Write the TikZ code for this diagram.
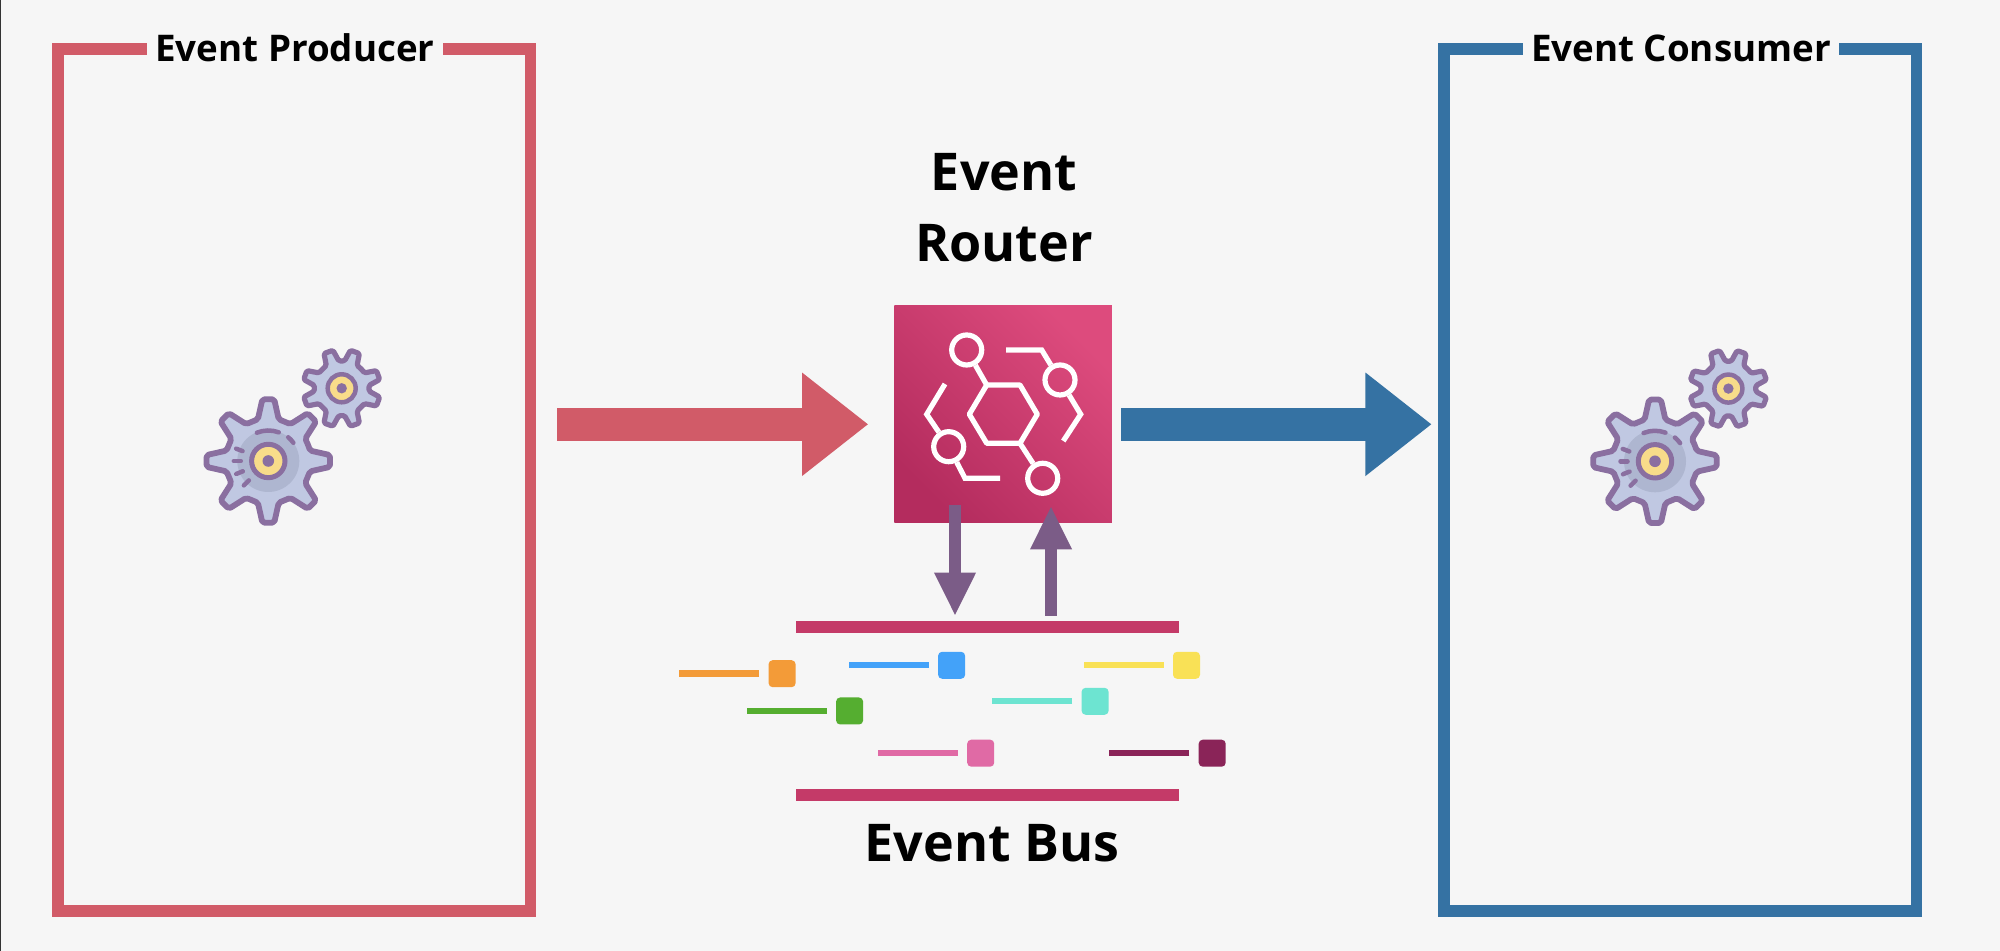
\documentclass[tikz,border=0pt]{standalone}
\usepackage{fontspec}
\setmainfont{Open Sans}
\usetikzlibrary{arrows.meta,positioning,calc}
\definecolor{pagebg}{HTML}{F6F6F6}
\definecolor{producerred}{HTML}{D15B68}
\definecolor{consumerblue}{HTML}{3572A3}
\definecolor{buspink}{HTML}{C43A68}
\definecolor{routerlow}{HTML}{B42C5E}
\definecolor{routerhigh}{HTML}{DD4B7D}
\definecolor{pinarrow}{HTML}{7B5C87}
\definecolor{gearline}{HTML}{8A6FA0}
\definecolor{gearfill}{HTML}{C0C8E2}
\definecolor{geardisc}{HTML}{AEB6D0}
\definecolor{gearyellow}{HTML}{F8DC8A}
\definecolor{msgorange}{HTML}{F39B38}
\definecolor{msgblue}{HTML}{43A2F9}
\definecolor{msgyellow}{HTML}{F9E156}
\definecolor{msgteal}{HTML}{6DE4D1}
\definecolor{msggreen}{HTML}{55AE30}
\definecolor{msgpink}{HTML}{E06AA5}
\definecolor{msgdark}{HTML}{8A2458}
\tikzset{
  sidebox/.style={draw,line width=0.117cm,inner sep=0pt,minimum width=4.725cm,minimum height=8.614cm},
  boxtitle/.style={fill=pagebg,anchor=base,inner xsep=0.08cm,inner ysep=0.05cm,font=\fontsize{10.45}{12}\selectfont\bfseries},
  bigtitle/.style={align=center,font=\fontsize{14.8}{20.2}\selectfont\bfseries},
  bigarrow/.style={line width=0.333cm,-{Triangle[length=0.663cm,width=0.99cm]}},
  pinstyle/.style={pinarrow,line width=0.115cm,-{Triangle[length=0.433cm,width=0.385cm]}},
  busbar/.style={fill=buspink,inner sep=0pt,minimum width=3.825cm,minimum height=0.117cm},
  msgbox/.style={rounded corners=0.04cm,inner sep=0pt,minimum size=0.27cm},
  iconline/.style={white,line width=0.052cm},
  iconring/.style={circle,draw=white,line width=0.052cm,inner sep=0pt,minimum size=0.3cm},
  gearpair/.pic={
    % - big gear.
    \draw [gearline,fill=gearfill,line width=0.058cm,line join=round,rounded corners=0.02cm] (22.5:0.43)
      \foreach \a in {45,90,...,360} { -- (\a-14:0.43) -- (\a-5.5:0.62) -- (\a+5.5:0.62) -- (\a+14:0.43) } -- cycle;
    \fill [geardisc] (0,0) circle (0.31);
    \draw [gearline,line width=0.045cm,line cap=round] (112:0.305) arc (112:70:0.305);
    \draw [gearline,line width=0.045cm,line cap=round] (50:0.31) arc (50:36:0.31);
    \foreach \a in {159,180,202,225} {
      \draw [gearline,line width=0.045cm,line cap=round] (\a:0.275) -- (\a:0.345);
    }
    \draw [gearline,fill=gearyellow,line width=0.05cm] (0,0) circle (0.167);
    \fill [gearline] (0,0) circle (0.058);
    % - small gear.
    \begin{scope}[shift={(0.734,0.727)}]
      \draw [gearline,fill=gearfill,line width=0.052cm,line join=round,rounded corners=0.015cm] (45:0.275)
        \foreach \a in {70,110,160,200,250,290,340,380} { -- (\a-14:0.275) -- (\a-7:0.39) -- (\a+7:0.39) -- (\a+14:0.275) } -- cycle;
      \draw [gearline,fill=gearyellow,line width=0.045cm] (0,0) circle (0.14);
      \fill [gearline] (0,0) circle (0.052);
    \end{scope}
  }
}
\begin{document}
\begin{tikzpicture}
% =============================================
% - page.
\fill [pagebg] (0,0) rectangle (20,-9.51);
\fill [black!80] (0,0) rectangle (0.015,-9.51);
\useasboundingbox (0,0) rectangle (20,-9.51);
% =============================================
% - producer and consumer.
\node [sidebox,draw=producerred] (producer) at (2.9425,-4.8) {};
\node [sidebox,draw=consumerblue] (consumer) at (16.802,-4.8) {};
\node [boxtitle] (producertitle) at (2.95,-0.617) {Event Producer};
\node [boxtitle] (consumertitle) at (16.81,-0.617) {Event Consumer};
\pic at (2.683,-4.61) {gearpair};
\pic at (16.55,-4.613) {gearpair};
% =============================================
% - router.
\node [bigtitle] (routertitle) at (10.04,-2.075) {Event\\Router};
\node [minimum size=2.175cm,inner sep=0pt,bottom color=routerlow,top color=routerhigh,shading angle=-45] (router) at (10.03,-4.1415) {};
% hexagon
\coordinate (hexa) at (9.693,-4.143);
\coordinate (hexb) at (9.867,-3.85);
\coordinate (hexc) at (10.2,-3.85);
\coordinate (hexd) at (10.373,-4.143);
\coordinate (hexe) at (10.2,-4.433);
\coordinate (hexf) at (9.867,-4.433);
\draw [iconline,line join=round] (hexa) -- (hexb) -- (hexc) -- (hexd) -- (hexe) -- (hexf) -- cycle;
% rings
\node [iconring] (ringa) at (9.667,-3.5) {};
\node [iconring] (ringb) at (10.427,-4.783) {};
\node [iconring] (ringc) at (10.6,-3.8) {};
\node [iconring] (ringd) at (9.487,-4.467) {};
\draw [iconline] (ringa) -- (hexb);
\draw [iconline] (ringb) -- (hexe);
\coordinate (linca) at (10.06,-3.5);
\coordinate (lincb) at (10.417,-3.5);
\coordinate (lincc) at (10.807,-4.143);
\coordinate (lincd) at (10.633,-4.41);
\draw [iconline] (linca) -- (lincb) -- (ringc);
\draw [iconline] (ringc) -- (lincc) -- (lincd);
\coordinate (linda) at (9.45,-3.84);
\coordinate (lindb) at (9.267,-4.143);
\coordinate (lindc) at (9.65,-4.783);
\coordinate (lindd) at (10.0,-4.783);
\draw [iconline] (linda) -- (lindb) -- (ringd);
\draw [iconline] (ringd) -- (lindc) -- (lindd);
% =============================================
% - big arrows.
\coordinate (redtail) at (5.573,-4.243);
\coordinate (redtip) at (8.683,-4.243);
\coordinate (bluetail) at (11.21,-4.243);
\coordinate (bluetip) at (14.317,-4.243);
\draw [bigarrow,producerred] (redtail) -- (redtip);
\draw [bigarrow,consumerblue] (bluetail) -- (bluetip);
% =============================================
% - bus.
\node [busbar] (bustop) at (9.8725,-6.268) {};
\node [busbar] (busbottom) at (9.8725,-7.948) {};
\node [bigtitle,anchor=base] (bustitle) at (9.92,-8.62) {Event Bus};
% messages
\foreach \x/\y/\c in {7.821/6.737/msgorange,9.516/6.653/msgblue,11.865/6.653/msgyellow,10.951/7.013/msgteal,
  8.496/7.11/msggreen,9.807/7.532/msgpink,12.122/7.532/msgdark} {
  \node [msgbox,fill=\c] (\c) at (\x,-\y) {};
  \coordinate (\c end) at ($(\c.west)+(-0.087,0)$);
  \coordinate (\c tail) at ($(\c end)+(-0.8,0)$);
  \draw [\c,line width=0.064cm] (\c end) -- (\c tail);
}
% - arrows router to bus.
\coordinate (pinatop) at (9.55,-5.05);
\coordinate (pinabot) at (9.55,-6.16);
\coordinate (pinbbot) at (10.51,-6.16);
\coordinate (pinbtop) at (10.51,-5.06);
\draw [pinstyle] (pinatop) -- (pinabot);
\draw [pinstyle] (pinbbot) -- (pinbtop);
% =============================================
\end{tikzpicture}
\end{document}
